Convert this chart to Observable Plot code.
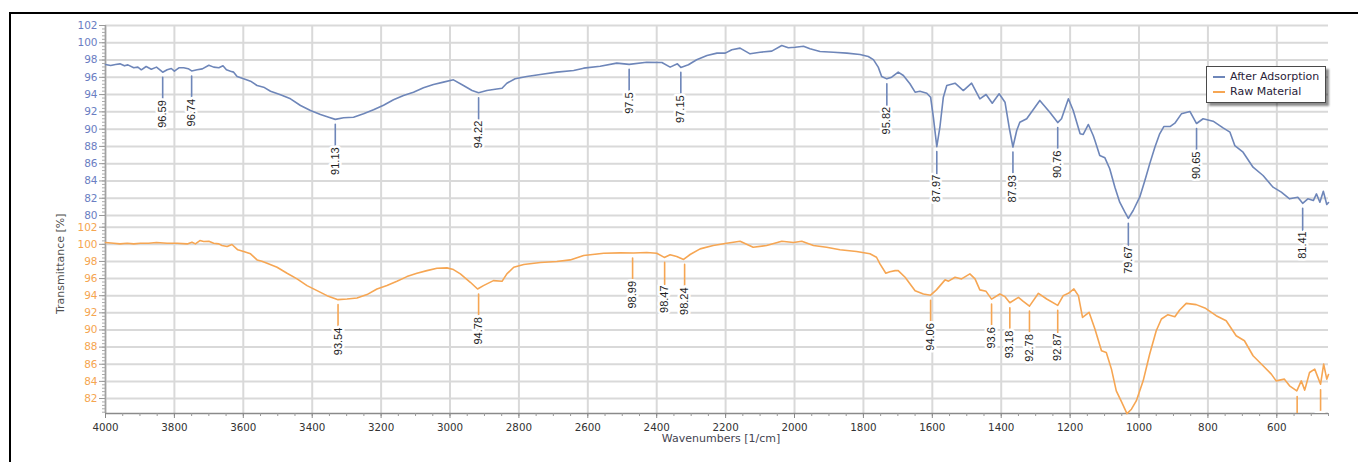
<!DOCTYPE html>
<html>
<head>
<meta charset="utf-8">
<script src="https://cdn.jsdelivr.net/npm/d3@7"></script>
<script src="https://cdn.jsdelivr.net/npm/@observablehq/plot@0.6"></script>
<style>
  body { margin: 0; background: #fff; }
  #wrap { position: relative; width: 1358px; height: 462px; overflow: hidden; background: #fff; }
  #top { position: absolute; left: 0; top: 0; z-index: 2; }
  #bottom { position: absolute; left: 0; top: 220px; z-index: 1; }
  #frame { position: absolute; left: 9px; top: 12px; width: 1400px; height: 500px;
           border-top: 2px solid #000; border-left: 2px solid #000; z-index: 5; pointer-events: none; }
  #legend { position: absolute; left: 1206px; top: 66px; width: 120px; height: 37px; box-sizing: border-box;
            border: 1px solid #4a4a4a; background: #fff; box-shadow: 3px 3px 2px rgba(0,0,0,0.45);
            z-index: 6; padding-top: 3px; font-family: "DejaVu Sans", sans-serif; font-size: 11px; color: #2a2238; }
  #legend .row { height: 14.5px; line-height: 14.5px; display: flex; align-items: center; white-space: nowrap; }
  #legend .sw { display: inline-block; width: 12px; height: 2px; margin-left: 6px; margin-right: 5px; }
</style>
</head>
<body>
<div id="wrap">
  <div id="top"></div>
  <div id="bottom"></div>
  <div id="legend"></div>
  <div id="frame"></div>
</div>
<script>
// ---------- series names & colours ----------
const seriesNames = ["After Adsorption", "Raw Material"];
const BLUE = "#6e86b9";
const ORANGE = "#f6a653";

// ---------- axis ticks ----------
const xTicks = [4000, 3800, 3600, 3400, 3200, 3000, 2800, 2600, 2400, 2200, 2000, 1800, 1600, 1400, 1200, 1000, 800, 600];
const topTicks = [80, 82, 84, 86, 88, 90, 92, 94, 96, 98, 100, 102];
const bottomTicks = [82, 84, 86, 88, 90, 92, 94, 96, 98, 100, 102];
const xDomain = [4000, 450];
const topDomain = [79.42, 102];
const bottomDomain = [80.25, 102.78];

// ---------- After Adsorption spectrum ----------
const afterWn = [4000,3985,3971,3958,3945,3935,3918,3906,3896,3882,3867,3852,3834,3821,3809,3800,3787,3773,3760,3750,3734,3719,3700,3686,3671,3659,3649,3637,3628,3618,3599,3579,3560,3541,3521,3492,3463,3434,3405,3376,3352,3333,3309,3280,3251,3222,3193,3164,3135,3106,3077,3048,3019,2990,2961,2936,2917,2893,2869,2849,2835,2811,2777,2738,2690,2641,2612,2564,2516,2480,2429,2385,2361,2340,2330,2308,2284,2254,2225,2201,2182,2158,2129,2100,2066,2037,2018,1998,1974,1955,1926,1887,1848,1810,1786,1771,1757,1747,1732,1718,1699,1684,1665,1650,1636,1616,1605,1597,1587,1578,1568,1558,1534,1510,1486,1462,1444,1426,1406,1389,1377,1366,1355,1346,1326,1288,1259,1236,1225,1205,1191,1171,1162,1147,1133,1128,1114,1099,1085,1070,1056,1041,1031,1017,998,983,969,954,940,928,910,896,877,852,833,814,785,756,736,722,698,669,640,611,587,563,539,525,510,494,485,475,465,455,450];
const afterT = [97.48,97.37,97.48,97.56,97.33,97.44,97.10,97.18,96.87,97.25,96.94,97.18,96.59,96.87,97.02,96.71,97.10,97.10,97.00,96.74,96.87,96.98,97.40,97.18,97.10,97.33,96.87,96.71,96.60,96.09,95.83,95.55,95.05,94.86,94.39,93.97,93.51,92.74,92.16,91.69,91.38,91.13,91.31,91.38,91.77,92.24,92.77,93.40,93.89,94.28,94.78,95.17,95.44,95.71,95.05,94.47,94.22,94.47,94.62,94.74,95.32,95.83,96.09,96.33,96.60,96.79,97.06,97.29,97.64,97.50,97.75,97.72,97.18,97.56,97.15,97.45,98.03,98.53,98.80,98.80,99.19,99.38,98.72,98.91,99.03,99.68,99.42,99.49,99.60,99.30,98.99,98.91,98.80,98.64,98.41,98.05,97.18,96.09,95.82,96.02,96.60,96.21,95.25,94.28,94.39,94.16,93.70,91.38,87.97,90.22,93.70,95.05,95.32,94.47,95.32,93.51,94.01,93.00,94.09,93.12,90.22,87.93,89.84,90.80,91.20,93.32,91.96,90.76,91.20,93.51,92.16,89.46,89.38,90.54,89.26,88.68,86.94,86.68,85.41,83.28,81.54,80.38,79.67,80.58,82.12,84.05,85.98,87.91,89.46,90.30,90.30,90.69,91.77,92.04,90.65,91.20,90.92,90.15,89.65,88.10,87.33,85.59,84.63,83.28,82.70,81.93,82.12,81.41,81.93,81.73,82.50,81.54,82.81,81.27,81.50];

// ---------- Raw Material spectrum ----------
const rawWn = [4000,3976,3958,3937,3918,3899,3875,3852,3821,3792,3763,3749,3739,3726,3715,3700,3686,3671,3662,3647,3633,3616,3599,3579,3560,3546,3531,3502,3473,3444,3415,3386,3357,3325,3299,3270,3241,3212,3183,3154,3125,3096,3067,3038,3009,2990,2970,2941,2920,2903,2874,2849,2835,2815,2786,2738,2690,2651,2612,2554,2506,2467,2429,2400,2378,2361,2342,2322,2303,2274,2236,2197,2158,2120,2081,2037,2003,1979,1945,1907,1868,1820,1781,1762,1752,1735,1723,1708,1699,1679,1650,1626,1605,1588,1563,1553,1534,1515,1491,1476,1462,1444,1428,1404,1389,1375,1350,1336,1318,1292,1268,1236,1220,1205,1189,1176,1164,1145,1128,1109,1095,1080,1066,1051,1035,1022,1008,988,969,950,935,916,896,882,863,834,809,776,747,718,694,669,640,616,602,578,563,542,529,519,505,490,473,464,455,450];
const rawT = [100.21,100.13,100.05,100.13,100.05,100.13,100.13,100.21,100.13,100.13,100.05,100.25,100.05,100.44,100.32,100.36,100.13,100.05,99.86,99.75,99.98,99.36,99.16,98.89,98.18,98.02,97.79,97.32,96.62,95.96,95.18,94.59,94.01,93.54,93.62,93.74,94.13,94.79,95.18,95.68,96.23,96.62,96.93,97.20,97.25,97.05,96.55,95.57,94.78,95.18,95.76,95.68,96.55,97.32,97.64,97.87,97.99,98.18,98.69,98.96,99.00,98.99,99.04,98.96,98.47,98.77,98.57,98.24,98.81,99.47,99.86,100.13,100.36,99.66,99.86,100.36,100.21,100.36,99.86,99.66,99.36,99.16,98.89,98.49,97.71,96.62,96.80,96.93,96.93,96.15,94.59,94.20,94.06,94.68,95.85,95.70,96.15,95.96,96.55,95.96,94.68,94.51,93.60,94.20,93.89,93.18,93.81,93.34,92.78,94.28,93.62,92.87,94.01,94.28,94.79,94.01,91.47,92.06,90.11,87.57,87.38,85.43,82.89,81.64,80.24,80.75,81.72,84.06,87.19,89.91,91.28,91.79,91.55,92.33,93.11,92.96,92.57,91.67,91.08,89.33,88.74,86.99,85.82,84.85,84.06,84.26,83.48,82.89,84.06,82.98,85.04,85.43,83.67,86.02,84.26,84.80];

// ---------- peak annotations ----------
const afterPeakWn = [3834, 3750, 3333, 2917, 2480, 2330, 1732, 1587, 1366, 1236, 1031, 833, 525];
const afterPeakT  = [96.59, 96.74, 91.13, 94.22, 97.5, 97.15, 95.82, 87.97, 87.93, 90.76, 79.67, 90.65, 81.41];
const rawPeakWn = [3325, 2917, 2470, 2377, 2319, 1605, 1428, 1375, 1318, 1236, 541, 473];
const rawPeakT  = [93.54, 94.78, 98.99, 98.47, 98.24, 94.06, 93.6, 93.18, 92.78, 92.87, 82.82, 83.6];

// ---------- build tables ----------
const afterRows = afterWn.map((w, i) => ({wn: w, t: afterT[i]}));
const rawRows = rawWn.map((w, i) => ({wn: w, t: rawT[i]}));
const afterPeaks = afterPeakWn.map((w, i) => ({wn: w, t: afterPeakT[i], label: String(afterPeakT[i])}));
const rawPeaks = rawPeakWn.map((w, i) => ({wn: w, t: rawPeakT[i], label: String(rawPeakT[i])}));

const FONT = "DejaVu Sans, sans-serif";
const GRID = {stroke: "#d9d9d9", strokeOpacity: 1, strokeWidth: 2};
const fmt = d => String(d);
const minorX = d3.range(450, 4001, 50);
const minorTop = d3.range(80, 102.01, 0.4).filter(v => v >= topDomain[0] && v <= topDomain[1]);
const minorBottom = d3.range(80.4, 102.78, 0.4).filter(v => v >= bottomDomain[0] && v <= bottomDomain[1]);

function peakMarks(rows, color, clip) {
  return [
    Plot.vector(rows, {x: "wn", y: "t", length: 22, rotate: 180, anchor: "start", shape: "spike", r: 0,
      dy: 5, stroke: color, strokeWidth: 1.6, clip}),
    Plot.text(rows, {x: "wn", y: "t", text: "label", rotate: -90, textAnchor: "end", dy: 28,
      fill: "#1e1e1e", stroke: "white", strokeWidth: 5, fontSize: 11, fontFamily: "Liberation Sans, Arial, sans-serif", clip})
  ];
}

const topPlot = Plot.plot({
  width: 1358, height: 220,
  marginLeft: 105, marginRight: 30, marginTop: 25, marginBottom: 0,
  style: {background: "transparent", overflow: "visible", fontFamily: FONT},
  x: {domain: xDomain, axis: null, label: null},
  y: {domain: topDomain, axis: null, label: null},
  marks: [
    Plot.gridX(xTicks, GRID),
    Plot.gridY(topTicks, GRID),
    Plot.ruleX([xDomain[0]], {stroke: "#a0a0a0", strokeWidth: 1.5}),
    Plot.axisY(minorTop, {tickSize: 3, tickFormat: () => "", stroke: "#aaaaaa", label: null}),
    Plot.axisY(topTicks, {tickSize: 6, tickPadding: 2, tickFormat: fmt, stroke: "#999999", fill: "#6a7dc2",
      fontSize: 10.5, label: null}),
    Plot.line(afterRows, {x: "wn", y: "t", stroke: BLUE, strokeWidth: 1.6}),
    ...peakMarks(afterPeaks, BLUE, false)
  ]
});
document.getElementById("top").append(topPlot);

const bottomPlot = Plot.plot({
  width: 1358, height: 242,
  marginLeft: 105, marginRight: 30, marginTop: 0, marginBottom: 49,
  style: {background: "transparent", overflow: "visible", fontFamily: FONT},
  x: {domain: xDomain, label: null},
  y: {domain: bottomDomain, label: null},
  marks: [
    Plot.gridX(xTicks, GRID),
    Plot.gridY(bottomTicks, GRID),
    Plot.ruleX([xDomain[0]], {stroke: "#a0a0a0", strokeWidth: 1.5}),
    Plot.ruleY([bottomDomain[0]], {stroke: "#8a8a8a", strokeWidth: 1.5}),
    Plot.axisY(minorBottom, {tickSize: 3, tickFormat: () => "", stroke: "#aaaaaa", label: null}),
    Plot.axisY(bottomTicks, {tickSize: 6, tickPadding: 2, tickFormat: fmt, stroke: "#999999", fill: "#f5a550",
      fontSize: 10.5, label: null}),
    Plot.axisX(minorX, {tickSize: 3, tickFormat: () => "", stroke: "#999999", label: null}),
    Plot.axisX(xTicks, {tickSize: 5, tickPadding: 5, tickFormat: fmt, stroke: "#888888", fill: "#333333",
      fontSize: 10.3, label: null}),
    Plot.text(["Wavenumbers [1/cm]"], {text: d => d, frameAnchor: "bottom", dy: 28, dx: 4,
      fontSize: 11, fill: "#444450"}),
    Plot.text(["Transmittance [%]"], {text: d => d, frameAnchor: "left", dx: -45, dy: -3, rotate: -90,
      fontSize: 11, fill: "#505050"}),
    Plot.line(rawRows, {x: "wn", y: "t", stroke: ORANGE, strokeWidth: 1.6}),
    ...peakMarks(rawPeaks, ORANGE, true)
  ]
});
document.getElementById("bottom").append(bottomPlot);

// ---------- legend ----------
const legend = document.getElementById("legend");
[BLUE, ORANGE].forEach((c, i) => {
  const row = document.createElement("div");
  row.className = "row";
  const sw = document.createElement("span");
  sw.className = "sw";
  sw.style.background = c;
  row.append(sw, document.createTextNode(seriesNames[i]));
  legend.append(row);
});
</script>
</body>
</html>
